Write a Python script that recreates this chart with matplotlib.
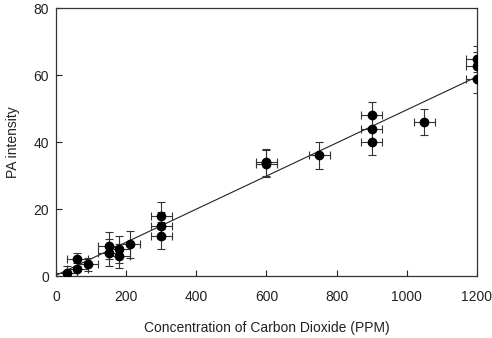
import matplotlib
matplotlib.use("Agg")
import matplotlib.pyplot as plt

plt.rcParams['font.family'] = ['Liberation Sans', 'DejaVu Sans']

conc = [30, 60, 60, 90, 150, 150, 180, 180, 210, 300, 300, 300,
        600, 600, 750, 900, 900, 900, 1050, 1200, 1200, 1200]
intensity = [1.0, 2.0, 5.0, 3.5, 7.0, 9.0, 6.0, 8.0, 9.5, 12.0, 15.0, 18.0,
             33.5, 34.0, 36.0, 48.0, 44.0, 40.0, 46.0, 64.8, 62.8, 58.7]
x_err = [30] * 22
y_err = [2, 2, 2, 2, 4, 4, 3.6, 4, 4, 4, 4, 4,
         4, 4, 4, 4, 4, 4, 4, 4, 4, 4]
fit_x = [0, 1200]
fit_y = [0.2, 59.5]

x_ticks = [0, 200, 400, 600, 800, 1000, 1200]
y_ticks = [0, 20, 40, 60, 80]

fig = plt.figure(figsize=(4.92, 3.38), dpi=100)
ax = fig.add_axes([0.1138, 0.1834, 0.8557, 0.7929])

ax.plot(fit_x, fit_y, color='#222222', lw=0.8, zorder=2)
ax.errorbar(conc, intensity, xerr=x_err, yerr=y_err, fmt='o', color='black',
            ecolor='#333333', elinewidth=0.8, capsize=3, capthick=0.8,
            markersize=6, clip_on=True, zorder=3)

ax.set_xlim(0, 1200)
ax.set_ylim(0, 80)
ax.set_xticks(x_ticks)
ax.set_yticks(y_ticks)
ax.tick_params(direction='in', length=4, width=0.8, labelsize=10, colors='#222222',
               top=False, right=False)
ax.tick_params(axis='x', pad=10)
ax.tick_params(axis='y', pad=5)
for s in ax.spines.values():
    s.set_color('#333333')
    s.set_linewidth(0.9)

ax.set_xlabel('Concentration of Carbon Dioxide (PPM)', fontsize=10, labelpad=12, color='#222222')
ax.set_ylabel('PA intensity', fontsize=10, labelpad=10, color='#222222')

fig.savefig('out.png', dpi=100)
